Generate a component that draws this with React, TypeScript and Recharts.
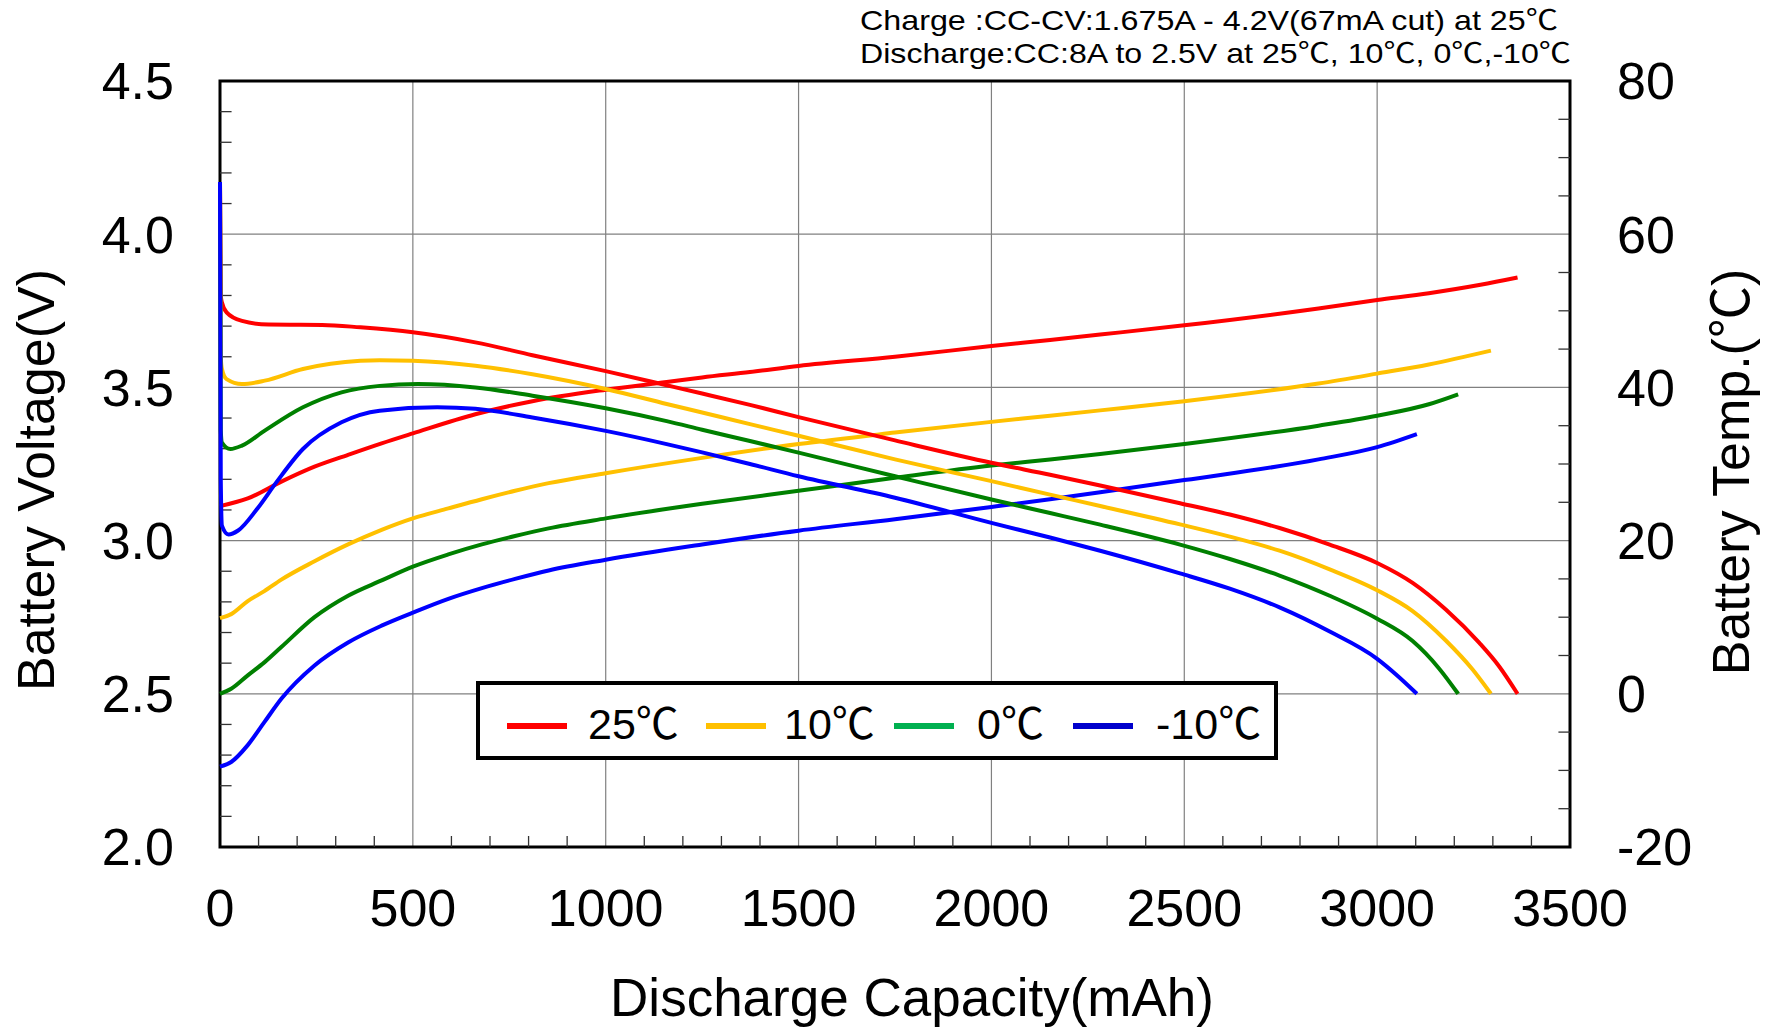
import React from 'react';
import { CartesianGrid, Legend, Line, LineChart, ReferenceArea, ReferenceLine, XAxis, YAxis } from 'recharts';

// axis ticks
const capTicks = [0, 500, 1000, 1500, 2000, 2500, 3000, 3500];
const voltTicks = [2.0, 2.5, 3.0, 3.5, 4.0, 4.5];
const tempTicks = [-20, 0, 20, 40, 60, 80];
const capMinor = [100, 200, 300, 400, 600, 700, 800, 900, 1100, 1200, 1300, 1400, 1600, 1700, 1800, 1900, 2100, 2200, 2300, 2400, 2600, 2700, 2800, 2900, 3100, 3200, 3300, 3400];
const voltMinor = [2.1, 2.2, 2.3, 2.4, 2.6, 2.7, 2.8, 2.9, 3.1, 3.2, 3.3, 3.4, 3.6, 3.7, 3.8, 3.9, 4.1, 4.2, 4.3, 4.4];
const tempMinor = [-15, -10, -5, 5, 10, 15, 25, 30, 35, 45, 50, 55, 65, 70, 75];

const headerLines = [
  'Charge :CC-CV:1.675A - 4.2V(67mA cut) at 25℃',
  'Discharge:CC:8A to 2.5V at 25℃, 10℃, 0℃,-10℃',
];

// [capacity mAh, voltage V]
const volt25: [number, number][] = [
  [0, 4.17], [2, 3.8], [5, 3.777], [17, 3.745], [57, 3.717], [126, 3.705], [265, 3.704], [364, 3.696],
  [500, 3.68], [662, 3.647], [810, 3.605], [1000, 3.553], [1158, 3.507], [1250, 3.48], [1374, 3.443],
  [1500, 3.403], [1750, 3.327], [2000, 3.254], [2152, 3.215], [2282, 3.18], [2489, 3.122], [2618, 3.085],
  [2747, 3.041], [2877, 2.987], [3000, 2.927], [3092, 2.862], [3178, 2.775], [3265, 2.666], [3316, 2.59],
  [3364, 2.5],
];
const volt10: [number, number][] = [
  [0, 4.17], [2, 3.6], [5, 3.56], [17, 3.527], [57, 3.511], [116, 3.522], [215, 3.56], [364, 3.587],
  [414, 3.589], [500, 3.587], [662, 3.571], [810, 3.543], [1000, 3.495], [1158, 3.446], [1250, 3.418],
  [1374, 3.38], [1500, 3.342], [1750, 3.265], [2000, 3.194], [2152, 3.15], [2282, 3.113], [2489, 3.053],
  [2618, 3.013], [2747, 2.967], [2877, 2.906], [3000, 2.838], [3092, 2.77], [3178, 2.674], [3247, 2.58],
  [3295, 2.5],
];
const volt0: [number, number][] = [
  [0, 4.17], [2, 3.36], [5, 3.32], [27, 3.299], [57, 3.31], [116, 3.359], [215, 3.435], [315, 3.484],
  [414, 3.505], [513, 3.511], [662, 3.5], [810, 3.473], [1000, 3.432], [1158, 3.39], [1250, 3.362],
  [1374, 3.325], [1500, 3.287], [1750, 3.21], [2000, 3.134], [2152, 3.09], [2282, 3.052], [2489, 2.987],
  [2618, 2.94], [2747, 2.886], [2877, 2.82], [3000, 2.745], [3092, 2.672], [3161, 2.582], [3210, 2.5],
];
const voltM10: [number, number][] = [
  [0, 4.17], [2, 3.2], [5, 3.049], [22, 3.02], [47, 3.033], [96, 3.103], [146, 3.19], [215, 3.299],
  [315, 3.386], [414, 3.424], [563, 3.435], [662, 3.43], [810, 3.402], [1000, 3.358], [1158, 3.315],
  [1250, 3.288], [1374, 3.25], [1500, 3.21], [1750, 3.14], [2000, 3.058], [2152, 3.01], [2282, 2.967],
  [2489, 2.893], [2618, 2.843], [2747, 2.782], [2877, 2.703], [3000, 2.614], [3049, 2.563], [3103, 2.5],
];

// [capacity mAh, battery temperature ℃]
const temp25: [number, number][] = [
  [0, 24.5], [72, 25.5], [159, 27.7], [245, 29.65], [332, 31.2], [419, 32.7], [500, 34.0], [662, 36.5],
  [810, 38.2], [1000, 39.7], [1158, 40.7], [1250, 41.3], [1374, 42.0], [1500, 42.8], [1750, 44.0],
  [2000, 45.4], [2152, 46.2], [2282, 46.9], [2500, 48.1], [2848, 50.3], [3000, 51.4], [3134, 52.3],
  [3268, 53.4], [3364, 54.35],
];
const temp10: [number, number][] = [
  [0, 9.87], [29, 10.4], [72, 12.1], [115, 13.4], [159, 14.9], [245, 17.3], [332, 19.5], [419, 21.4],
  [500, 22.9], [592, 24.2], [679, 25.4], [765, 26.5], [852, 27.5], [1000, 28.8], [1250, 30.8], [1500, 32.6],
  [1750, 34.1], [2000, 35.5], [2152, 36.3], [2282, 37.0], [2500, 38.2], [2848, 40.5], [3000, 41.8],
  [3134, 43.0], [3295, 44.8],
];
const temp0: [number, number][] = [
  [0, 0], [29, 0.65], [72, 2.4], [115, 4.1], [159, 6.1], [245, 10.0], [332, 12.8], [419, 14.8],
  [500, 16.6], [592, 18.2], [679, 19.5], [765, 20.6], [852, 21.6], [1000, 22.9], [1250, 24.8], [1500, 26.5],
  [1750, 28.2], [2000, 29.8], [2152, 30.6], [2282, 31.3], [2500, 32.6], [2848, 35.0], [3000, 36.3],
  [3134, 37.8], [3210, 39.1],
];
const tempM10: [number, number][] = [
  [0, -9.5], [29, -8.9], [72, -6.7], [115, -3.7], [159, -0.65], [245, 3.7], [332, 6.7], [419, 8.9],
  [500, 10.6], [592, 12.4], [679, 13.8], [765, 15.0], [852, 16.1], [1000, 17.5], [1250, 19.5], [1500, 21.3],
  [1750, 22.8], [2000, 24.4], [2152, 25.4], [2282, 26.3], [2500, 27.9], [2848, 30.6], [3000, 32.2],
  [3103, 33.9],
];

const series = [
  { name: '25℃', color: '#FF0000', legendColor: '#FF0000', volt: volt25, temp: temp25 },
  { name: '10℃', color: '#FFC000', legendColor: '#FFC000', volt: volt10, temp: temp10 },
  { name: '0℃', color: '#008000', legendColor: '#00B050', volt: volt0, temp: temp0 },
  { name: '-10℃', color: '#0000FF', legendColor: '#0000CC', volt: voltM10, temp: tempM10 },
];

const FONT = '"Liberation Sans", Arial, "Noto Sans CJK JP", sans-serif';
const tickStyle = { fontSize: 52, fill: '#000', fontFamily: FONT };

const toPoints = (arr: [number, number][], key: string) => arr.map(([c, y]) => ({ c, [key]: y }));

function LegendBox() {
  const swatchX = [31, 230, 418, 597];
  const textX = [112, 308, 501, 680];
  return (
    <svg width={802} height={79} style={{ display: 'block' }}>
      <rect x={2} y={2} width={798} height={75} fill="#fff" stroke="#000" strokeWidth={4} />
      {series.map((s, i) => (
        <g key={s.name}>
          <line x1={swatchX[i]} x2={swatchX[i] + 60} y1={45} y2={45} stroke={s.legendColor} strokeWidth={6} />
          <text x={textX[i]} y={58} fontSize={43} fontFamily={FONT} fill="#000">{s.name}</text>
        </g>
      ))}
    </svg>
  );
}

export default function App() {
  return (
    <div style={{ position: 'absolute', left: 0, top: 0, width: 1771, height: 1027, background: '#fff' }}>
      <LineChart width={1771} height={1027} margin={{ top: 81, right: 0, bottom: 0, left: 0 }}>
        <CartesianGrid yAxisId="v" stroke="#808080" strokeWidth={1.2} />
        <XAxis
          dataKey="c"
          type="number"
          domain={[0, 3500]}
          ticks={capTicks}
          interval={0}
          height={180}
          axisLine={false}
          tickLine={false}
          tickSize={0}
          tickMargin={42}
          tick={tickStyle}
          label={{ value: 'Discharge Capacity(mAh)', position: 'center', dx: 17, dy: 60, fontSize: 53, fill: '#000', fontFamily: FONT }}
        />
        <YAxis
          yAxisId="v"
          orientation="left"
          width={220}
          domain={[2, 4.5]}
          ticks={voltTicks}
          interval={0}
          tickFormatter={(v: number) => v.toFixed(1)}
          axisLine={false}
          tickLine={false}
          tickSize={0}
          tickMargin={46}
          tick={tickStyle}
          label={{ value: 'Battery Voltage(V)', angle: -90, position: 'center', dx: -74, dy: 16, fontSize: 52, fill: '#000', fontFamily: FONT }}
        />
        <YAxis
          yAxisId="t"
          orientation="right"
          width={201}
          domain={[-20, 80]}
          ticks={tempTicks}
          interval={0}
          axisLine={false}
          tickLine={false}
          tickSize={0}
          tickMargin={47}
          tick={tickStyle}
          label={{ value: 'Battery Temp.(℃)', angle: -90, position: 'center', dx: 60, dy: 8, fontSize: 52, fill: '#000', fontFamily: FONT }}
        />
        {capMinor.map((c) => (
          <ReferenceLine key={'cx' + c} yAxisId="v" segment={[{ x: c, y: 2 }, { x: c, y: 2.036 }]} stroke="#333" strokeWidth={1.3} />
        ))}
        {voltMinor.map((v) => (
          <ReferenceLine key={'vy' + v} yAxisId="v" segment={[{ x: 0, y: v }, { x: 30, y: v }]} stroke="#333" strokeWidth={1.3} />
        ))}
        {tempMinor.map((t) => (
          <ReferenceLine key={'ty' + t} yAxisId="t" segment={[{ x: 3470, y: t }, { x: 3500, y: t }]} stroke="#333" strokeWidth={1.3} />
        ))}
        <ReferenceArea yAxisId="v" x1={0} x2={3500} y1={2} y2={4.5} fill="none" stroke="#000" strokeWidth={3} ifOverflow="visible" />
        {series.map((s) => (
          <Line
            key={'t' + s.name}
            yAxisId="t"
            data={toPoints(s.temp, 't')}
            dataKey="t"
            name={s.name + ' temp'}
            type="monotone"
            stroke={s.color}
            strokeWidth={4}
            dot={false}
            isAnimationActive={false}
            legendType="none"
          />
        ))}
        {series.map((s) => (
          <Line
            key={'v' + s.name}
            yAxisId="v"
            data={toPoints(s.volt, 'v')}
            dataKey="v"
            name={s.name}
            type="monotone"
            stroke={s.color}
            strokeWidth={4}
            dot={false}
            isAnimationActive={false}
          />
        ))}
        <Legend
          layout="horizontal"
          verticalAlign="middle"
          align="center"
          content={() => <LegendBox />}
          wrapperStyle={{ position: 'absolute', left: 476, top: 681, width: 802, height: 79 }}
        />
      </LineChart>
      <svg width={1771} height={1027} style={{ position: 'absolute', left: 0, top: 0, pointerEvents: 'none' }}>
        <text x={860} y={30} fontSize={28} fontFamily={FONT} fill="#000" textLength={698} lengthAdjust="spacingAndGlyphs">{headerLines[0]}</text>
        <text x={860} y={63} fontSize={28} fontFamily={FONT} fill="#000" textLength={711} lengthAdjust="spacingAndGlyphs">{headerLines[1]}</text>
      </svg>
    </div>
  );
}
